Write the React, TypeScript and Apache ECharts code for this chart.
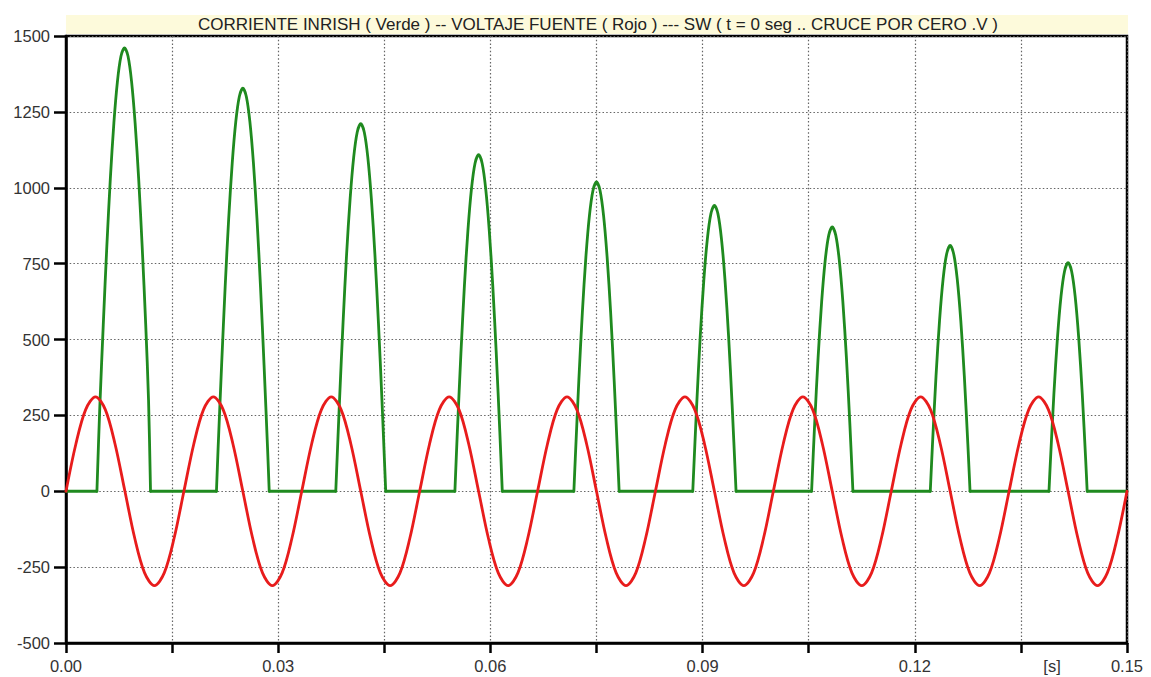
import React, { useEffect, useRef } from "react";
import * as echarts from "echarts";

const titleText =
  "CORRIENTE INRISH ( Verde ) -- VOLTAJE FUENTE ( Rojo ) --- SW ( t = 0 seg .. CRUCE POR CERO .V )";
const xUnitLabel = "[s]";

const xMin = 0;
const xMax = 0.15;
const xTickStep = 0.015;
const xLabelStep = 0.03;
const yMin = -500;
const yMax = 1500;
const yTickStep = 250;

// Source voltage (red), seconds / volts
const voltageTime = [
  0, 0.00139, 0.00278, 0.00417, 0.00556, 0.00694, 0.00833, 0.00972, 0.01111, 0.0125, 0.01389, 0.01528,
  0.01667, 0.01806, 0.01944, 0.02083, 0.02222, 0.02361, 0.025, 0.02639, 0.02778, 0.02917, 0.03056, 0.03194,
  0.03333, 0.03472, 0.03611, 0.0375, 0.03889, 0.04028, 0.04167, 0.04306, 0.04444, 0.04583, 0.04722, 0.04861,
  0.05, 0.05139, 0.05278, 0.05417, 0.05556, 0.05694, 0.05833, 0.05972, 0.06111, 0.0625, 0.06389, 0.06528,
  0.06667, 0.06806, 0.06944, 0.07083, 0.07222, 0.07361, 0.075, 0.07639, 0.07778, 0.07917, 0.08056, 0.08194,
  0.08333, 0.08472, 0.08611, 0.0875, 0.08889, 0.09028, 0.09167, 0.09306, 0.09444, 0.09583, 0.09722, 0.09861,
  0.1, 0.10139, 0.10278, 0.10417, 0.10556, 0.10694, 0.10833, 0.10972, 0.11111, 0.1125, 0.11389, 0.11528,
  0.11667, 0.11806, 0.11944, 0.12083, 0.12222, 0.12361, 0.125, 0.12639, 0.12778, 0.12917, 0.13056, 0.13194,
  0.13333, 0.13472, 0.13611, 0.1375, 0.13889, 0.14028, 0.14167, 0.14306, 0.14444, 0.14583, 0.14722, 0.14861,
  0.15,
];
const voltageValue = [
  0, 155, 269, 311, 269, 155, 0, -155, -269, -311, -269, -155,
  0, 155, 269, 311, 269, 155, 0, -155, -269, -311, -269, -155,
  0, 155, 269, 311, 269, 155, 0, -155, -269, -311, -269, -155,
  0, 155, 269, 311, 269, 155, 0, -155, -269, -311, -269, -155,
  0, 155, 269, 311, 269, 155, 0, -155, -269, -311, -269, -155,
  0, 155, 269, 311, 269, 155, 0, -155, -269, -311, -269, -155,
  0, 155, 269, 311, 269, 155, 0, -155, -269, -311, -269, -155,
  0, 155, 269, 311, 269, 155, 0, -155, -269, -311, -269, -155,
  0, 155, 269, 311, 269, 155, 0, -155, -269, -311, -269, -155,
  0,
];

// Inrush current (green), seconds / amperes
const currentTime = [
  0,
  0.00437, 0.00477, 0.00527, 0.00577, 0.00627, 0.00677, 0.00727, 0.00777, 0.00827, 0.00877, 0.00927, 0.00977, 0.01027, 0.01077, 0.01127, 0.01167, 0.01195,
  0.02127, 0.0215, 0.022, 0.0225, 0.023, 0.0235, 0.024, 0.0245, 0.025, 0.0255, 0.026, 0.0265, 0.027, 0.0275, 0.028, 0.0285, 0.02873,
  0.03814, 0.03867, 0.03917, 0.03967, 0.04017, 0.04067, 0.04117, 0.04167, 0.04217, 0.04267, 0.04317, 0.04367, 0.04417, 0.04467, 0.0452,
  0.05498, 0.05533, 0.05583, 0.05633, 0.05683, 0.05733, 0.05783, 0.05833, 0.05883, 0.05933, 0.05983, 0.06033, 0.06083, 0.06133, 0.06168,
  0.0718, 0.072, 0.0725, 0.073, 0.0735, 0.074, 0.0745, 0.075, 0.0755, 0.076, 0.0765, 0.077, 0.0775, 0.078, 0.0782,
  0.08861, 0.08917, 0.08967, 0.09017, 0.09067, 0.09117, 0.09167, 0.09217, 0.09267, 0.09317, 0.09367, 0.09417, 0.09473,
  0.10541, 0.10583, 0.10633, 0.10683, 0.10733, 0.10783, 0.10833, 0.10883, 0.10933, 0.10983, 0.11033, 0.11083, 0.11125,
  0.12219, 0.1225, 0.123, 0.1235, 0.124, 0.1245, 0.125, 0.1255, 0.126, 0.1265, 0.127, 0.1275, 0.12781,
  0.13897, 0.13917, 0.13967, 0.14017, 0.14067, 0.14117, 0.14167, 0.14217, 0.14267, 0.14317, 0.14367, 0.14417, 0.14437,
  0.15,
];
const currentValue = [
  0,
  0, 272, 549, 806, 1031, 1214, 1350, 1433, 1461, 1433, 1350, 1214, 1031, 806, 549, 300, 0,
  0, 139, 416, 673, 898, 1081, 1217, 1300, 1328, 1300, 1217, 1081, 898, 673, 416, 139, 0,
  0, 299, 556, 781, 964, 1100, 1183, 1211, 1183, 1100, 964, 781, 556, 299, 0,
  0, 197, 454, 679, 862, 998, 1081, 1109, 1081, 998, 862, 679, 454, 197, 0,
  0, 107, 364, 589, 772, 908, 991, 1019, 991, 908, 772, 589, 364, 107, 0,
  0, 287, 512, 695, 831, 914, 942, 914, 831, 695, 512, 287, 0,
  0, 216, 441, 624, 760, 843, 871, 843, 760, 624, 441, 216, 0,
  0, 155, 380, 563, 699, 782, 810, 782, 699, 563, 380, 155, 0,
  0, 98, 323, 506, 642, 725, 753, 725, 642, 506, 323, 98, 0,
  0,
];

const FONT = "'Liberation Sans', Arial, sans-serif";
const GREEN = "#1f8a1f";
const RED = "#e81c1c";

export default function App() {
  const ref = useRef<HTMLDivElement>(null);

  useEffect(() => {
    document.body.style.margin = "0";
    if (!ref.current) return;
    const chart = echarts.init(ref.current, undefined, { renderer: "svg" });

    const voltageData = voltageTime.map((t, i) => [t, voltageValue[i]]);

    // Split the current into pulse segments (smoothed) and flat zero segments
    const pulseData: any[] = [];
    const baseData: any[] = [];
    for (let i = 0; i < currentTime.length; i++) {
      pulseData.push([currentTime[i], currentValue[i]]);
      const flatNext =
        i + 1 < currentTime.length && currentValue[i] === 0 && currentValue[i + 1] === 0;
      if (flatNext) {
        baseData.push([currentTime[i], 0], [currentTime[i + 1], 0], null);
        pulseData.push(null);
      }
    }

    const gridLine = { show: true, lineStyle: { color: "#666", width: 1.2, type: [1.5, 2.2] as any } };

    chart.setOption({
      animation: false,
      backgroundColor: "#ffffff",
      grid: {
        left: 66,
        right: 24,
        top: 36,
        bottom: 34,
        show: true,
        borderColor: "#000",
        borderWidth: 2.5,
        backgroundColor: "#fff",
      },
      xAxis: {
        type: "value",
        min: xMin,
        max: xMax,
        interval: xTickStep,
        axisLine: { show: true, onZero: false, lineStyle: { color: "#000", width: 2.5 } },
        axisTick: { show: true, length: 10, lineStyle: { color: "#000", width: 2.5 } },
        axisLabel: {
          margin: 14,
          color: "#333",
          fontSize: 16.5,
          fontFamily: FONT,
          showMinLabel: true,
          showMaxLabel: true,
          formatter: (v: number) => {
            const r = v / xLabelStep;
            return Math.abs(r - Math.round(r)) < 1e-6 ? v.toFixed(2) : "";
          },
        },
        splitLine: gridLine,
      },
      yAxis: {
        type: "value",
        min: yMin,
        max: yMax,
        interval: yTickStep,
        axisLine: { show: true, lineStyle: { color: "#000", width: 2.5 } },
        axisTick: { show: true, length: 12, lineStyle: { color: "#000", width: 2.5 } },
        axisLabel: {
          margin: 16,
          color: "#333",
          fontSize: 16.5,
          fontFamily: FONT,
          formatter: (v: number) => String(v),
        },
        splitLine: gridLine,
      },
      graphic: [
        {
          type: "rect",
          shape: { x: 66, y: 15, width: 1062, height: 19 },
          style: { fill: "#fdfadb" },
          silent: true,
        },
        {
          type: "text",
          x: 598,
          y: 24,
          style: {
            text: titleText,
            fontSize: 17,
            fontFamily: FONT,
            fill: "#222",
            align: "center",
            verticalAlign: "middle",
          },
          silent: true,
        },
        {
          type: "text",
          x: 1052,
          y: 666,
          style: {
            text: xUnitLabel,
            fontSize: 16.5,
            fontFamily: FONT,
            fill: "#333",
            align: "center",
            verticalAlign: "middle",
          },
          silent: true,
        },
      ],
      series: [
        {
          name: "Corriente",
          type: "line",
          data: baseData,
          showSymbol: false,
          symbol: "none",
          connectNulls: false,
          lineStyle: { color: GREEN, width: 2.8, cap: "round", join: "round" },
          itemStyle: { color: GREEN },
          z: 2,
        },
        {
          name: "Corriente pulsos",
          type: "line",
          data: pulseData,
          showSymbol: false,
          symbol: "none",
          smooth: 0.3,
          connectNulls: false,
          lineStyle: { color: GREEN, width: 2.8, cap: "round", join: "round" },
          itemStyle: { color: GREEN },
          z: 2,
        },
        {
          name: "Voltaje",
          type: "line",
          data: voltageData,
          showSymbol: false,
          symbol: "none",
          smooth: 0.33,
          lineStyle: { color: RED, width: 2.8, cap: "round", join: "round" },
          itemStyle: { color: RED },
          z: 3,
        },
      ],
    });

    return () => chart.dispose();
  }, []);

  return <div ref={ref} style={{ width: 1151, height: 677 }} />;
}
